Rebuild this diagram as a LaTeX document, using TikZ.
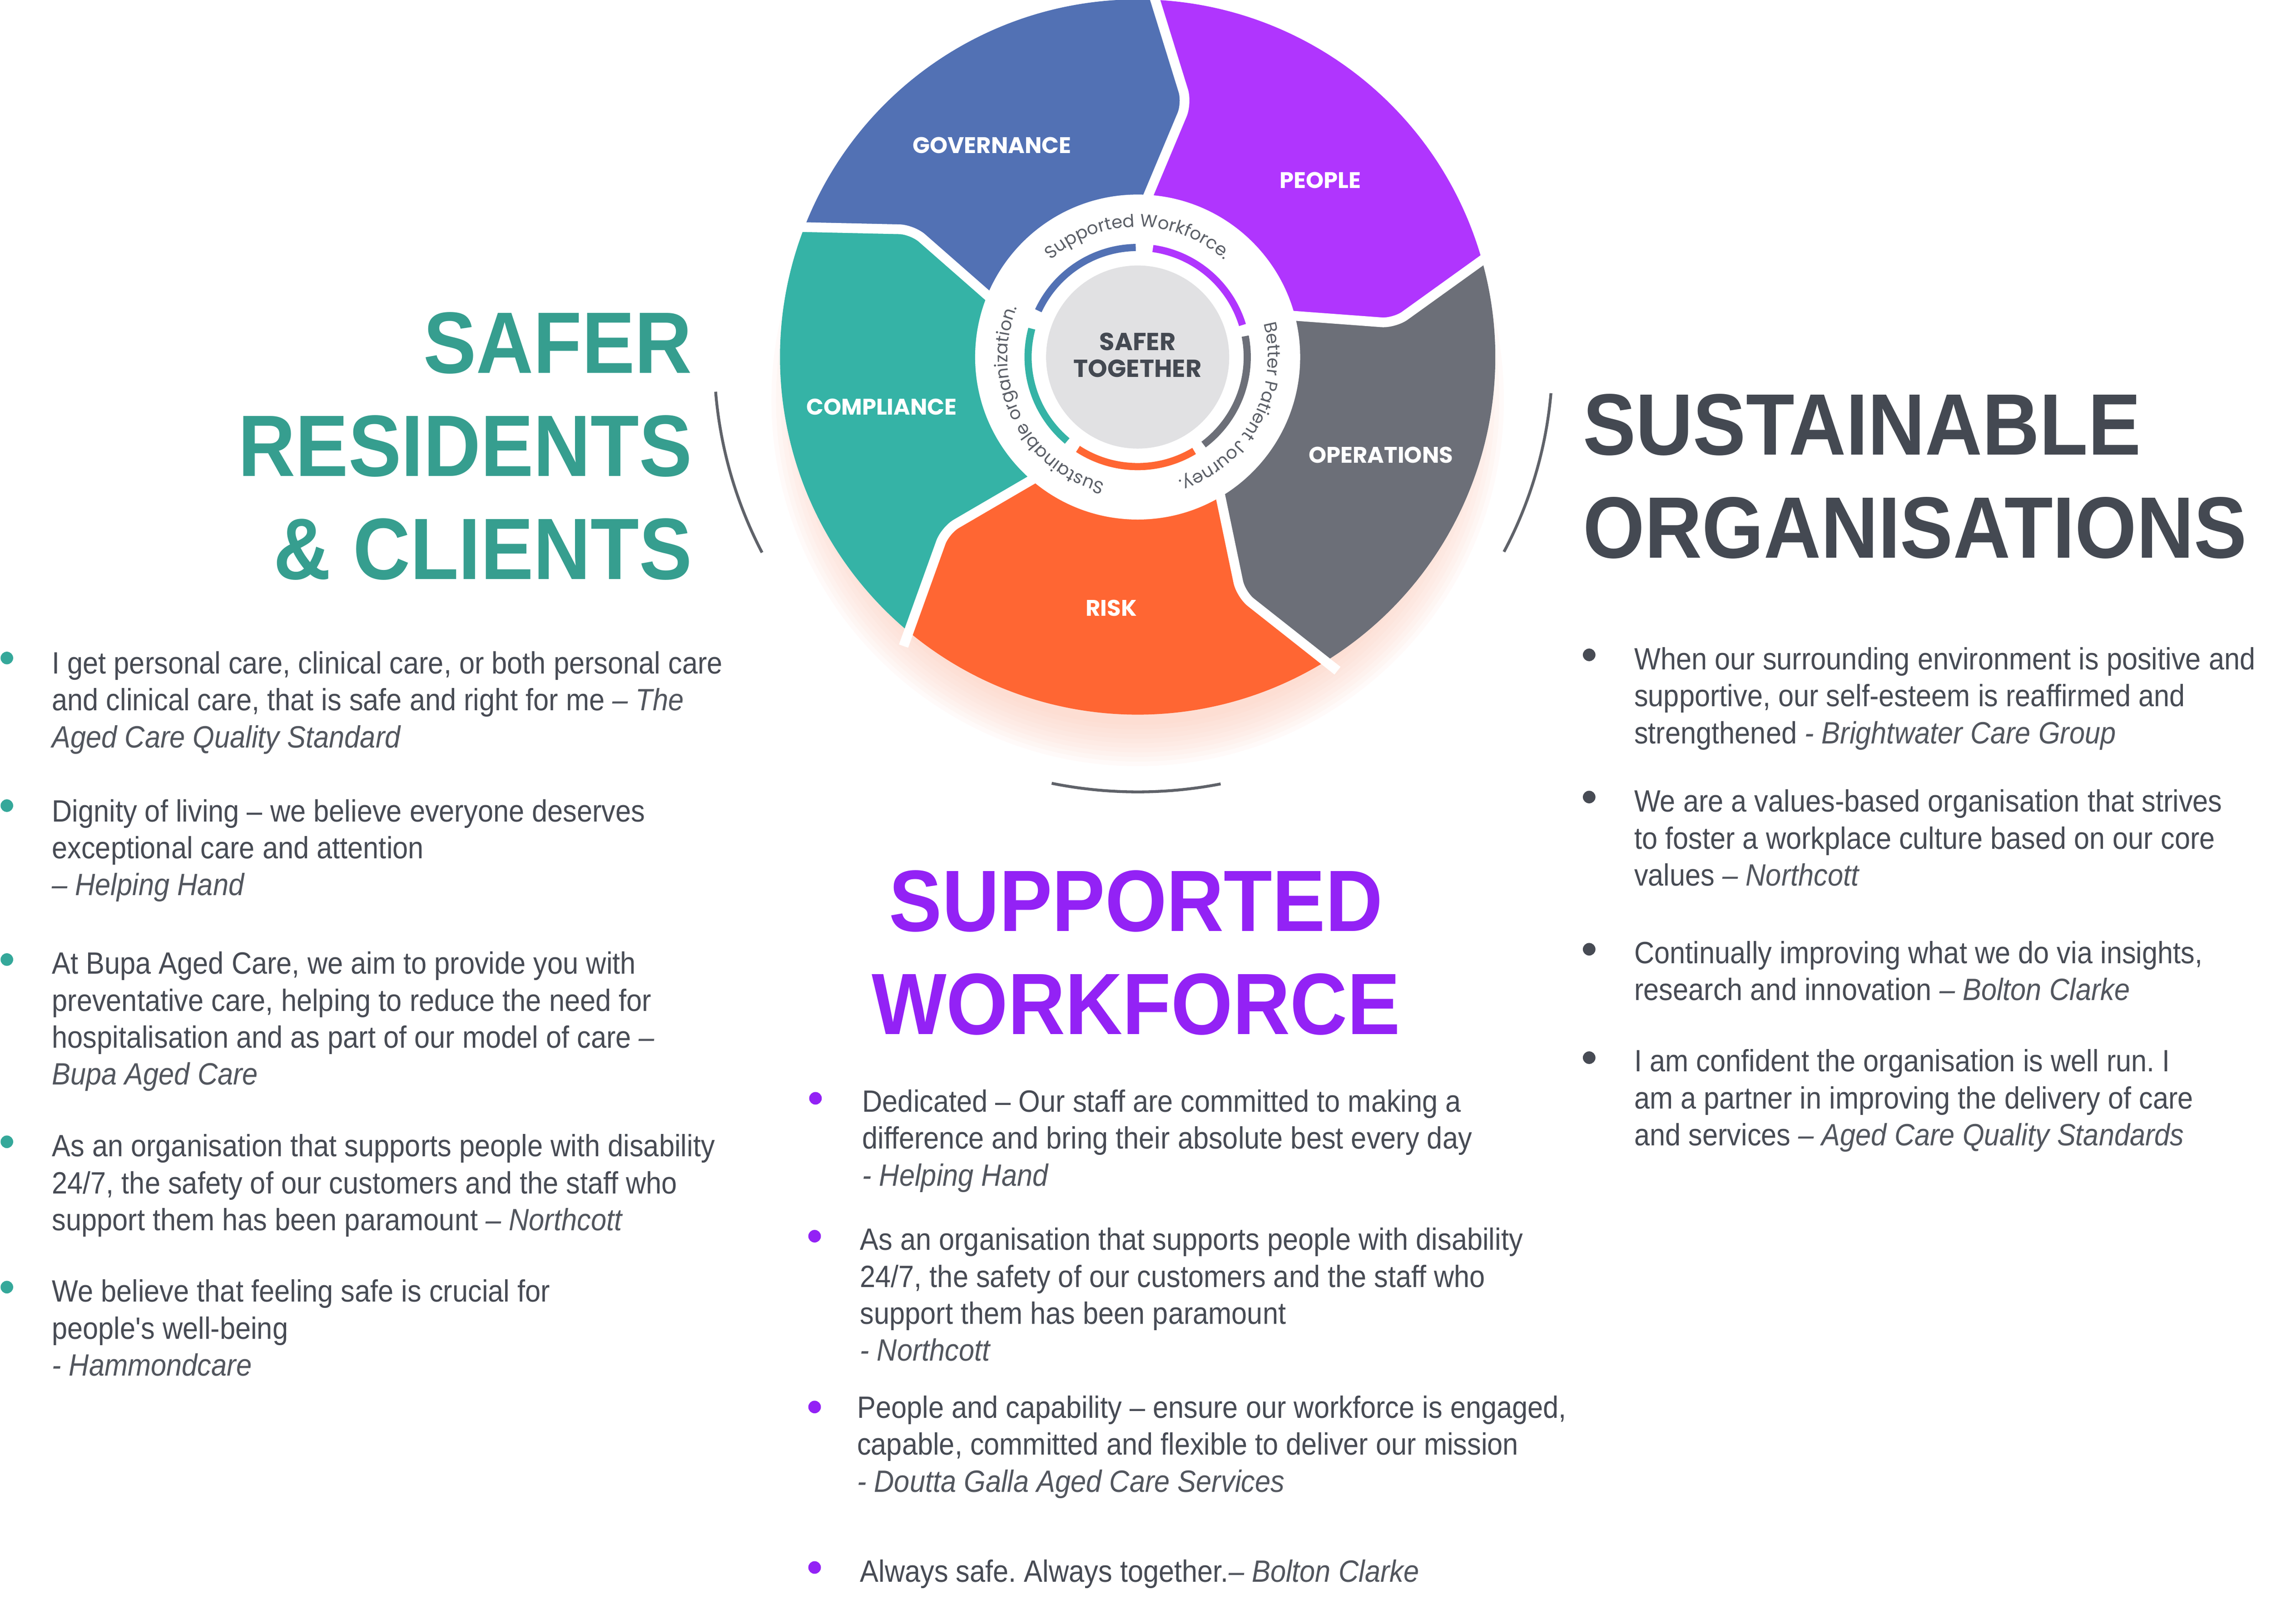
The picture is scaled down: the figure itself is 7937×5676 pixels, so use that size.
\documentclass[tikz,border=0pt]{standalone}
\usepackage{fontspec}
\setmainfont{Liberation Sans}[FakeStretch=0.905]
\newfontfamily\headfont{Liberation Sans}[FakeStretch=0.91]
\newfontfamily\apfont{Liberation Sans}[FakeStretch=0.905, Ligatures=TeXOff]
\newfontfamily\wheelfont{Poppins}
\usetikzlibrary{decorations.text}

\definecolor{gov}{HTML}{5271B4}
\definecolor{ppl}{HTML}{B035FE}
\definecolor{ops}{HTML}{6C6F78}
\definecolor{risk}{HTML}{FF6633}
\definecolor{comp}{HTML}{35B3A6}
\definecolor{tealhead}{HTML}{369E8F}
\definecolor{tealdot}{HTML}{35A89A}
\definecolor{bodytxt}{HTML}{474B54}
\definecolor{bodyital}{HTML}{52565E}
\definecolor{darkhead}{HTML}{444952}
\definecolor{purphead}{HTML}{9322F5}
\definecolor{centergray}{HTML}{E1E1E3}
\definecolor{ringtxt}{HTML}{5B5F67}
\definecolor{arcc}{HTML}{5F6269}
\definecolor{shadowc}{HTML}{FBC3B0}

\newcommand\bodyfont{\frenchspacing\fontsize{30.6}{36.7}\selectfont}
\newcommand\headingfont{\headfont\bfseries\fontsize{86.6}{102.4}\selectfont}
\newcommand\labelfont{\wheelfont\bfseries\fontsize{22.5}{26}\selectfont}
\newcommand\centerfont{\wheelfont\bfseries\fontsize{24.5}{26.7}\selectfont}
\newcommand\ringfont{\wheelfont\fontsize{17.5}{20}\selectfont}
\newcommand\src[1]{{\color{bodyital}\itshape #1}}
\newcommand\apos{{\apfont'}}

\newcommand\wseg[3]{\fill[#1] (#2:540) -- ({#2-9}:905) -- (#2:1250)
  arc[start angle=#2, end angle=#3, radius=1250] -- ({#3-9}:905) -- (#3:540)
  arc[start angle=#3, end angle=#2, radius=540] -- cycle;}

\tikzset{
  body/.style={anchor=base west, align=left, text=bodytxt, font=\bodyfont, inner sep=0pt},
  bdot/.style={circle, inner sep=0pt, minimum size=0.44cm},
  wlabel/.style={text=white, font=\labelfont, inner sep=0pt},
  heading/.style={font=\headingfont, inner sep=0pt},
  bigarc/.style={arcc, line width=0.1cm},
  ringarc/.style={line width=0.25cm}
}

\begin{document}
\begin{tikzpicture}[x=0.01cm,y=0.01cm]
\useasboundingbox (0,0) rectangle (7937,-5676);

% soft shadow, mostly below the wheel
\foreach \k in {10,9,...,1}
  \fill[shadowc, opacity=0.08] (3976,-1398) circle[radius=1120+\k*16];

\begin{scope}[shift={(3976,-1248)}]
  \wseg{gov}{159.5}{88}
  \wseg{ppl}{88}{16.5}
  \wseg{ops}{16.5}{-57.5}
  \wseg{risk}{-57.5}{-129}
  \wseg{comp}{-129}{-200.5}
  \foreach \b in {88,16.5,-57.5,-129,-200.5}
    \draw[white, line width=0.34cm, rounded corners=0.45cm] (\b:520) -- ({\b-9}:905) -- (\b:1300);
  \fill[white] (0,0) circle[radius=568];
  \draw[ringarc, gov] (91:383) arc[start angle=91, end angle=155, radius=383];
  \draw[ringarc, ppl] (17:383) arc[start angle=17, end angle=82, radius=383];
  \draw[ringarc, ops] (-53:383) arc[start angle=-53, end angle=11, radius=383];
  \draw[ringarc, risk] (-123:383) arc[start angle=-123, end angle=-59, radius=383];
  \draw[ringarc, comp] (165:383) arc[start angle=165, end angle=230, radius=383];
  \fill[centergray] (0,0) circle[radius=320];
  \path[decorate, decoration={text along path, text align=center, text color=ringtxt,
      text={|\ringfont|Supported Workforce.}}]
    (180:455) arc[start angle=180, end angle=0, radius=455];
  \path[decorate, decoration={text along path, text align=center, text color=ringtxt,
      text={|\ringfont|Better Patient Journey.}}]
    (61.5:455) arc[start angle=61.5, end angle=-118.5, radius=455];
  \path[decorate, decoration={text along path, text align=center, text color=ringtxt,
      text={|\ringfont|Sustainable organization.}}]
    (-63.5:455) arc[start angle=-63.5, end angle=-243.5, radius=455];
\end{scope}

\node[wlabel] (lgov) at (3467,-508) {GOVERNANCE};
\node[wlabel] (lppl) at (4614,-630) {PEOPLE};
\node[wlabel] (lops) at (4826,-1590) {OPERATIONS};
\node[wlabel] (lrisk) at (3884,-2125) {RISK};
\node[wlabel] (lcomp) at (3081,-1422) {COMPLIANCE};
\node[align=center, font=\centerfont, text=darkhead, inner sep=0pt] (center) at (3976,-1241) {SAFER\\TOGETHER};

% framing arcs
\draw[bigarc] (3976,-1248) ++(184.7:1480) arc[start angle=184.7, end angle=207.5, radius=1480];
\draw[bigarc] (3976,-1248) ++(-5:1450) arc[start angle=-5, end angle=-28, radius=1450];
\draw[bigarc] (3976,-1248) ++(-101.4:1520) arc[start angle=-101.4, end angle=-79, radius=1520];

% headings (anchor = baseline of last line)
\node[heading, anchor=base east, align=right, text=tealhead] (hleft) at (2420,-2024) {SAFER\\RESIDENTS\\\& CLIENTS};
\node[heading, anchor=base west, align=left, text=darkhead] (hright) at (5532,-1950) {SUSTAINABLE\\ORGANISATIONS};
\node[heading, anchor=base, align=center, text=purphead] (hbottom) at (3970,-3615) {SUPPORTED\\WORKFORCE};

% left column
\node[bdot, fill=tealdot] (ld1) at (24,-2300) {};
\node[bdot, fill=tealdot] (ld2) at (24,-2816) {};
\node[bdot, fill=tealdot] (ld3) at (24,-3354) {};
\node[bdot, fill=tealdot] (ld4) at (24,-3991) {};
\node[bdot, fill=tealdot] (ld5) at (24,-4499) {};
\node[body] (l1) at (181,-2613) {I get personal care, clinical care, or both personal care\\and clinical care, that is safe and right for me \src{– The}\\\src{Aged Care Quality Standard}};
\node[body] (l2) at (181,-3130) {Dignity of living – we believe everyone deserves\\exceptional care and attention\\\src{– Helping Hand}};
\node[body] (l3) at (181,-3792) {At Bupa Aged Care, we aim to provide you with\\preventative care, helping to reduce the need for\\hospitalisation and as part of our model of care \src{–}\\\src{Bupa Aged Care}};
\node[body] (l4) at (181,-4301) {As an organisation that supports people with disability\\24/7, the safety of our customers and the staff who\\support them has been paramount \src{– Northcott}};
\node[body] (l5) at (181,-4809) {We believe that feeling safe is crucial for\\people\apos s well-being\\\src{- Hammondcare}};

% right column
\node[bdot, fill=bodytxt] (rd1) at (5554,-2289) {};
\node[bdot, fill=bodytxt] (rd2) at (5554,-2786) {};
\node[bdot, fill=bodytxt] (rd3) at (5554,-3318) {};
\node[bdot, fill=bodytxt] (rd4) at (5554,-3697) {};
\node[body] (r1) at (5711,-2599) {When our surrounding environment is positive and\\supportive, our self-esteem is reaffirmed and\\strengthened \src{- Brightwater Care Group}};
\node[body] (r2) at (5711,-3096) {We are a values-based organisation that strives\\to foster a workplace culture based on our core\\values \src{– Northcott}};
\node[body] (r3) at (5711,-3496) {Continually improving what we do via insights,\\research and innovation \src{– Bolton Clarke}};
\node[body] (r4) at (5711,-4004) {I am confident the organisation is well run. I\\am a partner in improving the delivery of care\\and services \src{– Aged Care Quality Standards}};

% bottom column
\node[bdot, fill=purphead] (bd1) at (2850,-3839) {};
\node[bdot, fill=purphead] (bd2) at (2847,-4321) {};
\node[bdot, fill=purphead] (bd3) at (2847,-4918) {};
\node[bdot, fill=purphead] (bd4) at (2847,-5479) {};
\node[body] (b1) at (3013,-4145) {Dedicated – Our staff are committed to making a\\difference and bring their absolute best every day\\\src{- Helping Hand}};
\node[body] (b2) at (3005,-4757) {As an organisation that supports people with disability\\24/7, the safety of our customers and the staff who\\support them has been paramount\\\src{- Northcott}};
\node[body] (b3) at (2995,-5215) {People and capability – ensure our workforce is engaged,\\capable, committed and flexible to deliver our mission\\\src{- Doutta Galla Aged Care Services}};
\node[body] (b4) at (3005,-5529) {Always safe. Always together.\src{– Bolton Clarke}};
\end{tikzpicture}
\end{document}
